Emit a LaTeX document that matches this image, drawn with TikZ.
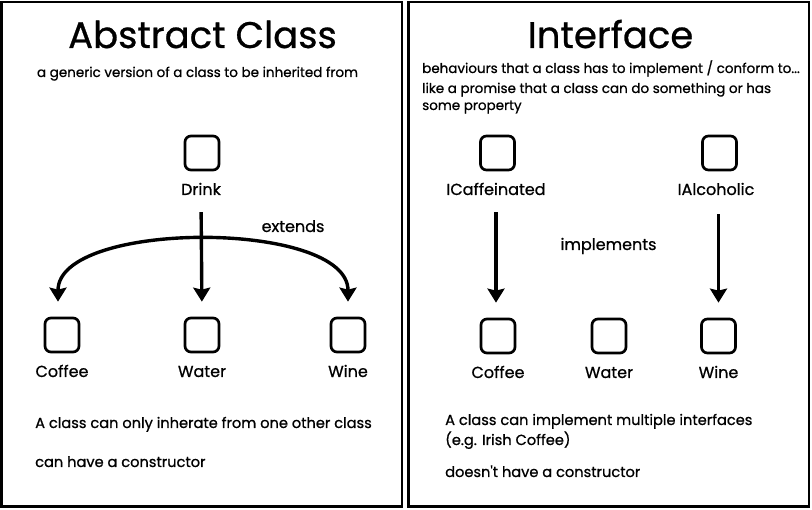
\documentclass[tikz,border=0pt]{standalone}
\usepackage{fontspec}
\setmainfont{Poppins}[Ligatures=TeXOff,FakeBold=0.8]
\newfontfamily\ttlfont{Poppins}[Ligatures=TeXOff,FakeBold=0.7]
\usetikzlibrary{arrows.meta}
\begin{document}
\begin{tikzpicture}[x=1pt,y=-1pt,
  panel/.style={draw=black,line width=2.2pt},
  cls/.style={draw=black,line width=2.7pt,rounded corners=6pt,minimum width=34pt,minimum height=34pt,inner sep=0pt},
  lbl/.style={anchor=base,inner sep=0pt,font=\fontsize{16}{18}\selectfont},
  ttl/.style={anchor=base,inner sep=0pt,font=\ttlfont\fontsize{37}{40}\selectfont},
  sub/.style={anchor=base,inner sep=0pt,font=\fontsize{13.5}{19}\selectfont},
  note/.style={anchor=base west,inner sep=0pt,font=\fontsize{14.6}{20}\selectfont},
  arr/.style={line width=3.4pt,-{Stealth[length=14pt,width=17pt,inset=2pt]}},
  arrs/.style={line width=3.4pt,{Stealth[length=14pt,width=17pt,inset=2pt]}-{Stealth[length=14pt,width=17pt,inset=2pt]}}
]
\useasboundingbox (0,0) rectangle (812,510);
\fill[white] (0,0) rectangle (812,510);
\draw[panel] (1.5,2) rectangle (402,506.5);
\draw[panel] (408.5,2) rectangle (809.3,506.5);

% left panel
\node[ttl] (t1) at (202.5,48) {Abstract Class};
\node[sub] (s1) at (197.5,77) {a generic version of a class to be inherited from};

\node[cls] (drink) at (202,153) {};
\node[lbl] (drinkL) at (201,195) {Drink};
\node[cls] (coffee) at (62,335) {};
\node[lbl] (coffeeL) at (62,377) {Coffee};
\node[cls] (water) at (202,335) {};
\node[lbl] (waterL) at (202,377) {Water};
\node[cls] (wine) at (348,335) {};
\node[lbl] (wineL) at (348,377) {Wine};
\node[lbl] (ext) at (293,232) {extends};

\draw[arr,shorten <=17pt,shorten >=15pt] (drinkL.south) -- (water.north);
\draw[arrs,shorten <=15pt,shorten >=15pt] ([xshift=-4pt]coffee.north) .. controls +(0,-97) and +(0,-97) .. (wine.north);

\node[note] (n1) at (35,428) {A class can only inherate from one other class};
\node[note] (n2) at (35,467) {can have a constructor};

% right panel
\node[ttl] (t2) at (610.5,48) {Interface};
\node[sub,anchor=base west] (s2) at (422,73) {behaviours that a class has to implement / conform to...};
\node[sub,anchor=base west] (s3) at (422,93) {like a promise that a class can do something or has};
\node[sub,anchor=base west] (s4) at (422,110) {some property};

\node[cls] (icaf) at (497.5,153) {};
\node[lbl] (icafL) at (496,195) {ICaffeinated};
\node[cls] (ialc) at (719.5,153) {};
\node[lbl] (ialcL) at (716,195) {IAlcoholic};
\node[cls] (coffee2) at (498,336) {};
\node[lbl] (coffee2L) at (498,378) {Coffee};
\node[cls] (water2) at (609,336) {};
\node[lbl] (water2L) at (609,378) {Water};
\node[cls] (wine2) at (718.5,336) {};
\node[lbl] (wine2L) at (718.5,378) {Wine};
\node[lbl] (impl) at (608.5,250) {implements};

\draw[arr,shorten <=17pt,shorten >=15pt] (icafL.south) -- (icafL.south |- coffee2.north);
\draw[arr,shorten <=19pt,shorten >=15pt] (ialcL.south -| wine2.north) -- (wine2.north);

\node[note] (n3) at (445,425) {A class can implement multiple interfaces};
\node[note] (n4) at (445,445) {(e.g. Irish Coffee)};
\node[note] (n5) at (445,477) {doesn't have a constructor};
\end{tikzpicture}
\end{document}
